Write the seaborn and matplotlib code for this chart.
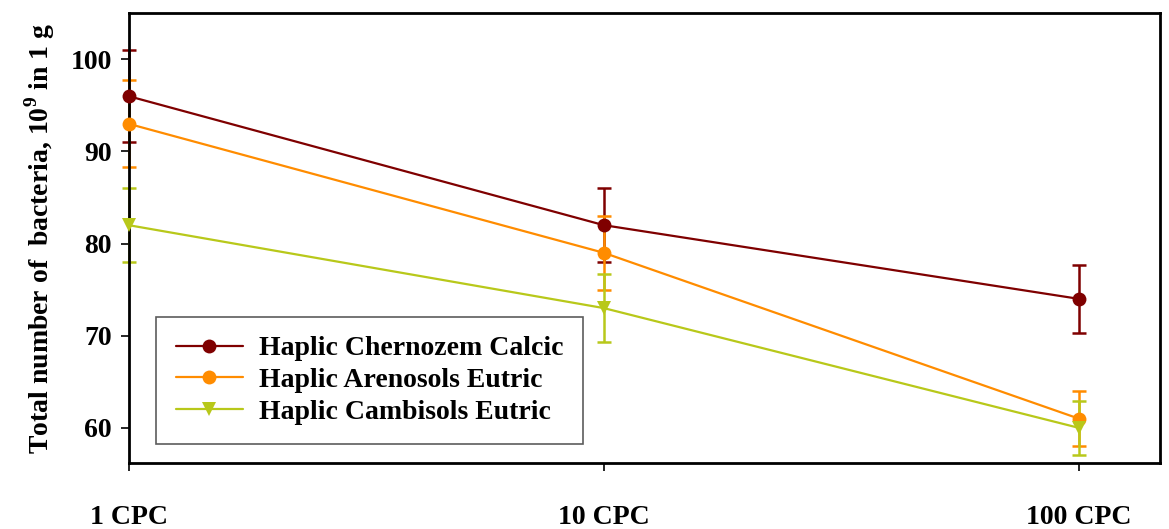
import matplotlib
matplotlib.use("Agg")
import matplotlib.pyplot as plt
import seaborn as sns
import pandas as pd

# Dilution levels and soil series
doses = ["1 CPC", "10 CPC", "100 CPC"]
soils = ["Haplic Chernozem Calcic", "Haplic Arenosols Eutric", "Haplic Cambisols Eutric"]

chernozem = [96, 82, 74]
chernozem_err = [5.0, 4.0, 3.7]
arenosols = [93, 79, 61]
arenosols_err = [4.7, 4.0, 3.0]
cambisols = [82, 73, 60]
cambisols_err = [4.0, 3.7, 2.9]

colors = ["#7f0000", "#ff8c00", "#b8c81a"]
markers = ["o", "o", "v"]

values = [chernozem, arenosols, cambisols]
errors = [chernozem_err, arenosols_err, cambisols_err]

rows = []
for soil, vals in zip(soils, values):
    for i, (d, v) in enumerate(zip(doses, vals)):
        rows.append({"soil": soil, "pos": i, "dose": d, "value": v})
df = pd.DataFrame(rows)

sns.set_theme(style="white")
plt.rcParams["font.family"] = ["Liberation Serif", "DejaVu Serif"]
plt.rcParams["font.weight"] = "bold"
plt.rcParams["text.color"] = "black"
plt.rcParams["axes.labelcolor"] = "black"
plt.rcParams["xtick.color"] = "black"
plt.rcParams["ytick.color"] = "black"
plt.rcParams["mathtext.fontset"] = "custom"
plt.rcParams["mathtext.bf"] = "Liberation Serif:bold"
plt.rcParams["mathtext.rm"] = "Liberation Serif:bold"

fig = plt.figure(figsize=(11.69, 5.29), dpi=100)
ax = fig.add_axes([0.110, 0.125, 0.882, 0.850])

# error bars first, so lines and markers sit on top
for vals, errs, c in zip(values, errors, colors):
    eb = ax.errorbar(range(len(doses)), vals, yerr=errs, fmt="none", ecolor=c,
                     elinewidth=1.8, capsize=5, capthick=1.8, zorder=2)
    for art in eb.lines[1] + eb.lines[2]:
        art.set_clip_on(False)

sns.lineplot(data=df, x="pos", y="value", hue="soil", style="soil",
             hue_order=soils, style_order=soils,
             palette=colors, markers=markers, dashes=False,
             markersize=10, markeredgewidth=0, linewidth=1.6,
             ax=ax, zorder=3)
for ln in ax.lines:
    ln.set_clip_on(False)

ax.set_xlim(0, 2.17)
ax.set_ylim(56.2, 105)
ax.set_xticks(range(len(doses)))
ax.set_xticklabels(doses)
ax.set_yticks([60, 70, 80, 90, 100])
ax.tick_params(axis="x", direction="out", length=6, width=1.2, pad=24,
               labelsize=20, bottom=True, colors="black")
ax.tick_params(axis="y", direction="out", length=6, width=1.2, pad=6,
               labelsize=20, left=True, colors="black")
for lab in ax.get_xticklabels() + ax.get_yticklabels():
    lab.set_fontweight("bold")

ax.set_xlabel("")
ax.set_ylabel(r"Total number of  bacteria, 10$^{\mathbf{9}}$ in 1 g",
              fontsize=20, fontweight="bold", labelpad=10, color="black")

for sp in ax.spines.values():
    sp.set_color("black")
    sp.set_linewidth(2)

leg = ax.legend(loc="lower left", bbox_to_anchor=(0.027, 0.042),
                frameon=True, fancybox=False, edgecolor="#333333",
                prop={"family": "Liberation Serif", "weight": "bold", "size": 20},
                handlelength=2.4, borderpad=0.7, labelspacing=0.22,
                handletextpad=0.6, borderaxespad=0)
leg.get_frame().set_linewidth(1.2)
for t in leg.get_texts():
    t.set_color("black")

fig.savefig("out.png", dpi=100)
